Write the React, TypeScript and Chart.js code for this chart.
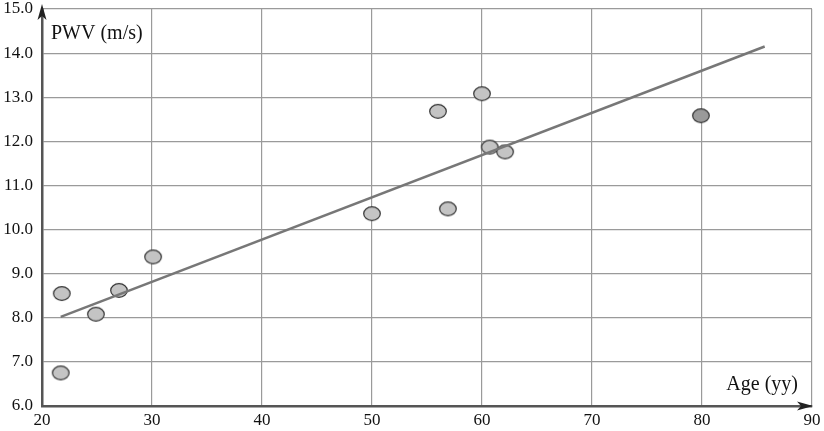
import React, { useEffect, useRef } from "react";
import { Chart, registerables } from "chart.js";

Chart.register(...registerables);

const ages = [21.8, 21.7, 24.9, 27.0, 30.1, 50.0, 56.0, 56.9, 60.0, 60.7, 62.1, 79.9];
const pwv = [8.55, 6.75, 8.08, 8.62, 9.38, 10.36, 12.68, 10.47, 13.08, 11.87, 11.76, 12.58];
const trendX = [21.7, 85.7];
const trendY = [8.02, 14.15];
const xTicks = [20, 30, 40, 50, 60, 70, 80, 90];
const yTicks = [6, 7, 8, 9, 10, 11, 12, 13, 14, 15];

const SERIF = "'Liberation Serif', 'DejaVu Serif', serif";

function makeEllipse(fill: string) {
  const c = document.createElement("canvas");
  c.width = 20;
  c.height = 17;
  const g = c.getContext("2d")!;
  g.beginPath();
  g.ellipse(10, 8.5, 8.3, 6.8, 0, 0, Math.PI * 2);
  g.fillStyle = fill;
  g.fill();
  g.lineWidth = 1.2;
  g.strokeStyle = "#333";
  g.stroke();
  return c;
}

const decorPlugin = {
  id: "decor",
  afterDraw(chart: any) {
    const ctx = chart.ctx;
    const { left, bottom, right } = chart.chartArea;
    ctx.save();
    ctx.fillStyle = "#222";
    // y arrow
    ctx.beginPath();
    ctx.moveTo(left, 4);
    ctx.lineTo(left + 4.5, 20);
    ctx.lineTo(left, 16);
    ctx.lineTo(left - 4.5, 20);
    ctx.closePath();
    ctx.fill();
    // x arrow
    ctx.beginPath();
    ctx.moveTo(right + 1, bottom);
    ctx.lineTo(right - 15, bottom - 4.5);
    ctx.lineTo(right - 11, bottom);
    ctx.lineTo(right - 15, bottom + 4.5);
    ctx.closePath();
    ctx.fill();
    // titles
    ctx.font = `20px ${SERIF}`;
    ctx.fillStyle = "#111";
    ctx.textBaseline = "middle";
    ctx.textAlign = "left";
    ctx.fillText("PWV (m/s)", left + 9, 34);
    ctx.textAlign = "right";
    ctx.fillText("Age (yy)", right - 14, 385);
    ctx.restore();
  },
};

export default function App() {
  const ref = useRef<HTMLCanvasElement>(null);
  useEffect(() => {
    if (!ref.current) return;
    const pts = ages.map((x, i) => ({ x, y: pwv[i] }));
    const styles = ages.map((x) => makeEllipse(x > 75 ? "#9a9a9a" : "#c4c4c4"));
    const chart = new Chart(ref.current, {
      type: "scatter",
      data: {
        datasets: [
          {
            type: "line",
            data: trendX.map((x, i) => ({ x, y: trendY[i] })),
            borderColor: "#777",
            borderWidth: 2.5,
            pointRadius: 0,
            fill: false,
          } as any,
          {
            data: pts,
            pointStyle: styles as any,
            pointRadius: 8,
          },
        ],
      },
      options: {
        animation: false,
        responsive: false,
        maintainAspectRatio: false,
        layout: { padding: { top: 7, right: 12, left: 0, bottom: 0 } },
        plugins: { legend: { display: false }, tooltip: { enabled: false } },
        scales: {
          x: {
            type: "linear",
            min: 20,
            max: 90,
            afterBuildTicks: (s: any) => {
              s.ticks = xTicks.map((v) => ({ value: v }));
            },
            afterFit: (s: any) => {
              s.height = 25;
              s.paddingLeft = 0;
              s.paddingRight = 0;
            },
            grid: { color: "#9a9a9a", lineWidth: 1.2, drawTicks: false },
            border: { color: "#555", width: 2.5 },
            ticks: {
              padding: 4,
              color: "#111",
              font: { family: SERIF, size: 17 },
              callback: (v: any) => String(v),
            },
          },
          y: {
            type: "linear",
            min: 6,
            max: 15,
            afterBuildTicks: (s: any) => {
              s.ticks = yTicks.map((v) => ({ value: v }));
            },
            afterFit: (s: any) => {
              s.width = 42;
              s.paddingTop = 0;
              s.paddingBottom = 0;
            },
            grid: { color: "#9a9a9a", lineWidth: 1.2, drawTicks: false },
            border: { color: "#555", width: 2.5 },
            ticks: {
              padding: 9,
              color: "#111",
              font: { family: SERIF, size: 17 },
              callback: (v: any) => Number(v).toFixed(1),
            },
          },
        },
      },
      plugins: [decorPlugin],
    });
    return () => chart.destroy();
  }, []);
  return (
    <div style={{ position: "fixed", left: 0, top: 0, width: 824, height: 431, background: "#fff" }}>
      <canvas ref={ref} width={824} height={431} style={{ display: "block" }} />
    </div>
  );
}
